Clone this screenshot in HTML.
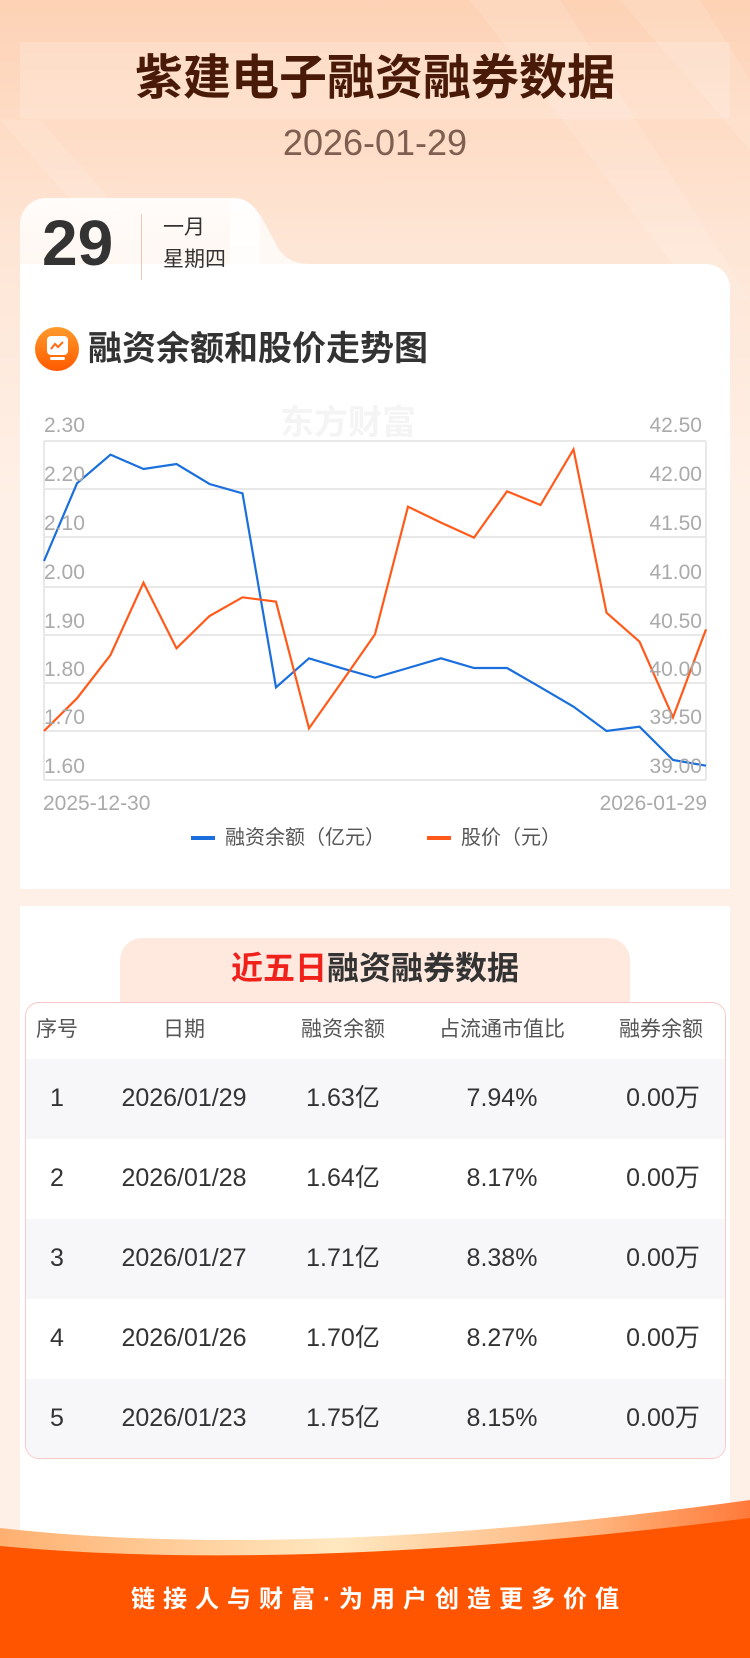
<!DOCTYPE html>
<html><head><meta charset="utf-8"><style>
*{margin:0;padding:0;box-sizing:border-box}
body{width:750px;height:1658px;position:relative;overflow:hidden;font-family:"Liberation Sans","Noto Sans CJK SC",sans-serif;background:linear-gradient(180deg,#fdd2b5 0px,#fee6d6 250px,#fff0e7 500px,#fff0e7 1658px)}
.abs{position:absolute}
.c{text-align:center;white-space:nowrap}
</style></head><body>
<svg class="abs" style="left:0;top:0" width="750" height="300"><polygon points="0,120 40,120 200,300 160,300" fill="#fff" opacity=".12"/><polygon points="470,0 560,0 750,300 700,300" fill="#fff" opacity=".12"/><polygon points="620,0 700,0 750,80 750,150" fill="#fff" opacity=".12"/></svg>
<div class="abs" style="left:20px;top:42px;width:710px;height:77px;background:rgba(255,255,255,.18)"></div>
<div class="abs c" style="left:0;width:750px;top:51px;font-size:48px;line-height:56px;font-weight:bold;color:#4a1a08">紫建电子融资融券数据</div>
<div class="abs c" style="left:0;width:750px;top:122px;font-size:36px;line-height:42px;color:#7d5e50">2026-01-29</div>
<!-- card 1 -->
<div class="abs" style="left:20px;top:198px;width:240px;height:90px;border-radius:26px 26px 0 0;background:linear-gradient(180deg,rgba(255,255,255,.9),rgba(255,255,255,.6))"></div>
<svg class="abs" style="left:230px;top:198px" width="80" height="70"><path d="M0,0 Q20,0 32,20 L48,50 Q58,66 80,66 L80,70 L0,70Z" fill="#fff" opacity=".75"/></svg>
<div class="abs" style="left:20px;top:264px;width:710px;height:625px;background:#fff;border-radius:24px 24px 0 0"></div>
<div class="abs" style="left:20px;top:264px;width:240px;height:30px;background:#fff"></div>
<div class="abs" style="left:42px;top:208px;font-size:64px;line-height:70px;font-weight:bold;color:#333">29</div>
<div class="abs" style="left:141px;top:214px;width:1px;height:66px;background:#f0c8b8"></div>
<div class="abs" style="left:163px;top:216px;font-size:21px;line-height:24px;color:#333">一月</div>
<div class="abs" style="left:163px;top:248px;font-size:21px;line-height:24px;color:#333">星期四</div>
<div class="abs" style="left:35px;top:327px;width:44px;height:44px;border-radius:50%;background:linear-gradient(180deg,#ff9a2a,#ff5a00)"></div>
<div class="abs" style="left:47px;top:336px;width:21px;height:19px;border-radius:4px;background:#fff"></div>
<svg class="abs" style="left:49px;top:340px" width="17" height="11"><polyline points="2,9 6,4 9,7 14,2" fill="none" stroke="#ff6a10" stroke-width="2"/></svg>
<div class="abs" style="left:50px;top:357px;width:15px;height:3px;border-radius:2px;background:#fff"></div>
<div class="abs" style="left:88px;top:329px;font-size:34px;line-height:40px;font-weight:bold;color:#333">融资余额和股价走势图</div>
<div class="abs" style="left:280px;top:395px;font-size:34px;font-weight:bold;color:#f4f4f4">东方财富</div>
<!-- chart -->
<svg class="abs" style="left:0;top:380px" width="750" height="480" viewBox="0 0 1568 1440" preserveAspectRatio="none">
<g stroke="#e8e8e8" stroke-width="2" fill="none">
<line x1="92" x2="1476" y1="183" y2="183" vector-effect="non-scaling-stroke"/><line x1="92" x2="1476" y1="327" y2="327" vector-effect="non-scaling-stroke"/><line x1="92" x2="1476" y1="471" y2="471" vector-effect="non-scaling-stroke"/><line x1="92" x2="1476" y1="621" y2="621" vector-effect="non-scaling-stroke"/><line x1="92" x2="1476" y1="765" y2="765" vector-effect="non-scaling-stroke"/><line x1="92" x2="1476" y1="909" y2="909" vector-effect="non-scaling-stroke"/><line x1="92" x2="1476" y1="1053" y2="1053" vector-effect="non-scaling-stroke"/><line x1="92" x2="1476" y1="1200" y2="1200" vector-effect="non-scaling-stroke"/>
<line x1="92" x2="92" y1="183" y2="1200" vector-effect="non-scaling-stroke"/><line x1="1476" x2="1476" y1="183" y2="1200" vector-effect="non-scaling-stroke"/>
</g>
<polyline fill="none" stroke="#1a6fdc" stroke-width="2.2" vector-effect="non-scaling-stroke" points="92,543 161,310 231,224 300,267 369,252 438,312 507,340 577,922 646,835 715,865 784,893 853,864 922,835 991,864 1060,864 1130,922 1199,980 1268,1053 1337,1040 1407,1140 1476,1157"/>
<polyline fill="none" stroke="#ff5a1a" stroke-width="2.2" vector-effect="non-scaling-stroke" points="92,1053 161,955 231,825 300,608 369,805 438,708 507,652 577,665 646,1045 715,905 784,763 853,380 922,428 991,473 1060,334 1130,375 1199,208 1268,698 1337,785 1407,1012 1476,748"/>
</svg>
<div class="abs" style="left:44px;top:414px;font-size:21px;color:#aaa">2.30</div>
<div class="abs" style="left:44px;top:463px;font-size:21px;color:#aaa">2.20</div>
<div class="abs" style="left:44px;top:512px;font-size:21px;color:#aaa">2.10</div>
<div class="abs" style="left:44px;top:561px;font-size:21px;color:#aaa">2.00</div>
<div class="abs" style="left:44px;top:610px;font-size:21px;color:#aaa">1.90</div>
<div class="abs" style="left:44px;top:658px;font-size:21px;color:#aaa">1.80</div>
<div class="abs" style="left:44px;top:706px;font-size:21px;color:#aaa">1.70</div>
<div class="abs" style="left:44px;top:755px;font-size:21px;color:#aaa">1.60</div>
<div class="abs" style="right:48px;top:414px;font-size:21px;color:#aaa">42.50</div>
<div class="abs" style="right:48px;top:463px;font-size:21px;color:#aaa">42.00</div>
<div class="abs" style="right:48px;top:512px;font-size:21px;color:#aaa">41.50</div>
<div class="abs" style="right:48px;top:561px;font-size:21px;color:#aaa">41.00</div>
<div class="abs" style="right:48px;top:610px;font-size:21px;color:#aaa">40.50</div>
<div class="abs" style="right:48px;top:658px;font-size:21px;color:#aaa">40.00</div>
<div class="abs" style="right:48px;top:706px;font-size:21px;color:#aaa">39.50</div>
<div class="abs" style="right:48px;top:755px;font-size:21px;color:#aaa">39.00</div>
<div class="abs" style="left:43px;top:792px;font-size:21px;color:#aaa">2025-12-30</div>
<div class="abs" style="right:43px;top:792px;font-size:21px;color:#aaa">2026-01-29</div>
<div class="abs" style="left:191px;top:836px;width:24px;height:4px;background:#1a6fdc"></div>
<div class="abs" style="left:225px;top:826px;font-size:20px;line-height:24px;color:#555">融资余额（亿元）</div>
<div class="abs" style="left:427px;top:836px;width:24px;height:4px;background:#ff5a1a"></div>
<div class="abs" style="left:461px;top:826px;font-size:20px;line-height:24px;color:#555">股价（元）</div>
<!-- card 2 -->
<div class="abs" style="left:20px;top:906px;width:710px;height:700px;background:#fff"></div>
<div class="abs" style="left:120px;top:938px;width:510px;height:70px;border-radius:22px 22px 0 0;background:#ffe9df"></div>
<div class="abs c" style="left:120px;width:510px;top:949px;font-size:32px;line-height:38px;font-weight:bold;color:#333"><span style="color:#f0201a">近五日</span>融资融券数据</div>
<div class="abs" style="left:25px;top:1002px;width:701px;height:457px;border:1px solid #fcc8c8;border-radius:14px;background:#fff;overflow:hidden">
<div class="abs" style="left:0;top:56px;width:700px;height:80px;background:#f7f7f9"></div>
<div class="abs" style="left:0;top:216px;width:700px;height:80px;background:#f7f7f9"></div>
<div class="abs" style="left:0;top:376px;width:700px;height:80px;background:#f7f7f9"></div>
</div>
<div class="abs" style="left:0;top:1016px;width:750px;font-size:21px;line-height:28px;color:#555">
<span class="abs c" style="left:7px;width:100px">序号</span><span class="abs c" style="left:134px;width:100px">日期</span><span class="abs c" style="left:283px;width:120px">融资余额</span><span class="abs c" style="left:432px;width:140px">占流通市值比</span><span class="abs c" style="left:601px;width:120px">融券余额</span></div>
<div class="abs" style="left:0;top:1083px;width:750px;font-size:25px;line-height:30px;color:#333">
<span class="abs c" style="left:7px;width:100px">1</span><span class="abs c" style="left:104px;width:160px">2026/01/29</span><span class="abs c" style="left:283px;width:120px">1.63亿</span><span class="abs c" style="left:432px;width:140px">7.94%</span><span class="abs c" style="left:603px;width:120px">0.00万</span>
<span class="abs c" style="left:7px;width:100px;top:80px">2</span><span class="abs c" style="left:104px;width:160px;top:80px">2026/01/28</span><span class="abs c" style="left:283px;width:120px;top:80px">1.64亿</span><span class="abs c" style="left:432px;width:140px;top:80px">8.17%</span><span class="abs c" style="left:603px;width:120px;top:80px">0.00万</span>
<span class="abs c" style="left:7px;width:100px;top:160px">3</span><span class="abs c" style="left:104px;width:160px;top:160px">2026/01/27</span><span class="abs c" style="left:283px;width:120px;top:160px">1.71亿</span><span class="abs c" style="left:432px;width:140px;top:160px">8.38%</span><span class="abs c" style="left:603px;width:120px;top:160px">0.00万</span>
<span class="abs c" style="left:7px;width:100px;top:240px">4</span><span class="abs c" style="left:104px;width:160px;top:240px">2026/01/26</span><span class="abs c" style="left:283px;width:120px;top:240px">1.70亿</span><span class="abs c" style="left:432px;width:140px;top:240px">8.27%</span><span class="abs c" style="left:603px;width:120px;top:240px">0.00万</span>
<span class="abs c" style="left:7px;width:100px;top:320px">5</span><span class="abs c" style="left:104px;width:160px;top:320px">2026/01/23</span><span class="abs c" style="left:283px;width:120px;top:320px">1.75亿</span><span class="abs c" style="left:432px;width:140px;top:320px">8.15%</span><span class="abs c" style="left:603px;width:120px;top:320px">0.00万</span>
</div>
<!-- footer -->
<svg class="abs" style="left:0;top:1470px" width="750" height="188">
<defs><linearGradient id="g" x1="0" x2="1"><stop offset="0" stop-color="#ffb070"/><stop offset=".45" stop-color="#ffe8c0"/><stop offset=".8" stop-color="#ffb27a"/><stop offset="1" stop-color="#ff7a3a"/></linearGradient></defs>
<path d="M0,58 Q300,92 750,30 L750,188 L0,188Z" fill="url(#g)"/>
<path d="M0,76 Q300,104 750,48 L750,188 L0,188Z" fill="#ff5500"/>
</svg>
<div class="abs c" style="left:0;width:750px;top:1584px;font-size:24px;line-height:32px;letter-spacing:8px;color:#fff;font-weight:bold;padding-left:8px">链接人与财富·为用户创造更多价值</div>
</body></html>
